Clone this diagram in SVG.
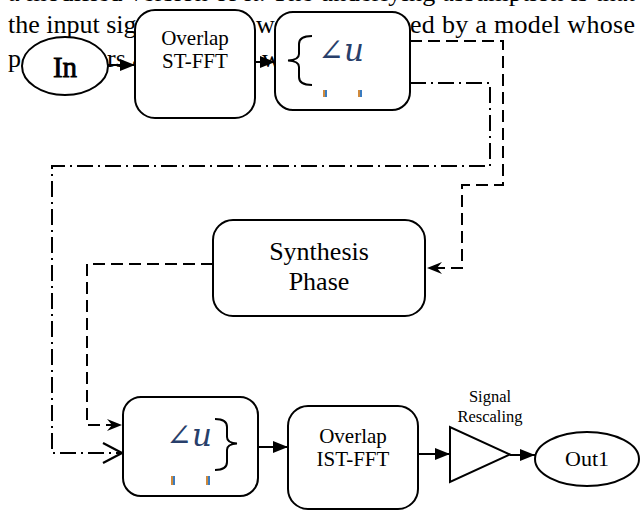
<svg xmlns="http://www.w3.org/2000/svg" width="641" height="512" viewBox="0 0 641 512">
<style>
  .para { font-family: "Liberation Serif", "Times New Roman", serif; font-size: 26px; fill: #000; }
  .lbl { font-family: "Liberation Serif", "Times New Roman", serif; fill: #000; text-anchor: middle; }
  .box { fill: #fff; stroke: #000; stroke-width: 2; }
  .conn { fill: none; stroke: #000; stroke-width: 2; }
  .dash { stroke-dasharray: 12 6; }
  .dashdot { stroke-dasharray: 16 5 2 5; }
  .ang { font-family: "DejaVu Serif", "Liberation Serif", serif; font-style: italic; font-size: 31px; fill: #283f6b; }
  .brace { fill: none; stroke: #000; stroke-width: 2; }
  .tk1 { fill: #d08a3c; }
  .tk2 { fill: #3a7cc0; }
</style>
<defs>
  <marker id="tri" markerUnits="userSpaceOnUse" markerWidth="16" markerHeight="14" viewBox="0 0 16 14" refX="15" refY="7" orient="auto">
    <path d="M0,1 L15,7 L0,13 z" fill="#000"/>
  </marker>
  <marker id="stealth" markerUnits="userSpaceOnUse" markerWidth="16" markerHeight="14" viewBox="0 0 16 14" refX="15" refY="7" orient="auto">
    <path d="M0,1 L15,7 L0,13 L5,7 z" fill="#000"/>
  </marker>
  <marker id="open" markerUnits="userSpaceOnUse" markerWidth="22" markerHeight="22" viewBox="0 0 22 22" refX="20" refY="11" orient="auto">
    <path d="M1,1 L20,11 L1,21" fill="none" stroke="#000" stroke-width="2.2"/>
  </marker>
</defs>

<g id="background-text">
  <text class="para" x="8" y="1" textLength="627" lengthAdjust="spacing">a modified version of it. The underlying assumption is that</text>
  <text class="para" x="8" y="33">the input sig</text>
  <text class="para" x="256" y="33">w</text>
  <text class="para" x="410" y="33" textLength="225" lengthAdjust="spacing">ed by a model whose</text>
  <text class="para" x="8" y="67">p</text>
  <text class="para" x="107" y="67">rs a</text>
  <text class="para" x="262" y="67">w</text>
</g>

<g id="connectors">
  <line class="conn" x1="107" y1="65" x2="135" y2="65" marker-end="url(#tri)"/>
  <line class="conn" x1="255" y1="62" x2="275" y2="62" marker-end="url(#tri)"/>
  <line class="conn" x1="258" y1="447" x2="288" y2="447" marker-end="url(#tri)"/>
  <line class="conn" x1="418" y1="454" x2="450" y2="454" marker-end="url(#tri)"/>
  <line class="conn" x1="510" y1="455" x2="535" y2="455" marker-end="url(#tri)"/>
  <path class="conn dash" d="M410,41 H503 V185 H462 V268 H427" marker-end="url(#stealth)"/>
  <path class="conn dashdot" d="M410,83 H490 V166 H52 V453 H122" marker-end="url(#open)"/>
  <path class="conn dash" d="M213,264 H87 V425 H122" marker-end="url(#stealth)"/>
</g>

<g id="node-in">
  <ellipse class="box" cx="65" cy="66" rx="43" ry="29"/>
  <text class="lbl" x="65" y="77" font-size="29" stroke="#000" stroke-width="0.8">In</text>
</g>

<g id="node-st-fft">
  <rect class="box" x="135" y="10" width="120" height="108" rx="20" ry="20"/>
  <text class="lbl" x="195" y="45" font-size="21">Overlap</text>
  <text class="lbl" x="195" y="68" font-size="21">ST-FFT</text>
</g>

<g id="node-split">
  <rect class="box" x="275" y="12" width="135" height="98" rx="18" ry="18"/>
  <path class="brace" d="M312,36 Q299,36 299,44 V54 Q299,60 288,60.5 Q299,61 299,67 V77 Q299,85 312,85"/>
  <text class="ang" x="318" y="61">∠u</text>
  <rect class="tk1" x="323" y="90" width="2" height="7"/>
  <rect class="tk2" x="325" y="90" width="2" height="7"/>
  <rect class="tk1" x="358" y="90" width="2" height="7"/>
  <rect class="tk2" x="360" y="90" width="2" height="7"/>
</g>

<g id="node-synthesis">
  <rect class="box" x="213" y="220" width="212" height="96" rx="20" ry="20"/>
  <text class="lbl" x="319" y="260" font-size="26">Synthesis</text>
  <text class="lbl" x="319" y="290" font-size="26">Phase</text>
</g>

<g id="node-merge">
  <rect class="box" x="123" y="397" width="135" height="99" rx="18" ry="18"/>
  <text class="ang" x="166" y="446">∠u</text>
  <path class="brace" d="M215,419 Q227,419 227,427 V437 Q227,443 237,443.5 Q227,444 227,450 V462 Q227,470 215,470"/>
  <rect class="tk1" x="171" y="476" width="2" height="9"/>
  <rect class="tk2" x="173" y="476" width="2" height="9"/>
  <rect class="tk1" x="206" y="476" width="2" height="9"/>
  <rect class="tk2" x="208" y="476" width="2" height="9"/>
</g>

<g id="node-ist-fft">
  <rect class="box" x="288" y="406" width="130" height="103" rx="20" ry="20"/>
  <text class="lbl" x="353" y="443" font-size="21">Overlap</text>
  <text class="lbl" x="353" y="466" font-size="21">IST-FFT</text>
</g>

<g id="node-rescaling">
  <text class="lbl" x="490" y="402" font-size="16.5">Signal</text>
  <text class="lbl" x="490" y="422" font-size="16.5">Rescaling</text>
  <polygon class="box" points="450,427 450,482 510,454.5"/>
</g>

<g id="node-out1">
  <ellipse class="box" cx="587" cy="459" rx="52" ry="27"/>
  <text class="lbl" x="587" y="466" font-size="22">Out1</text>
</g>
</svg>
